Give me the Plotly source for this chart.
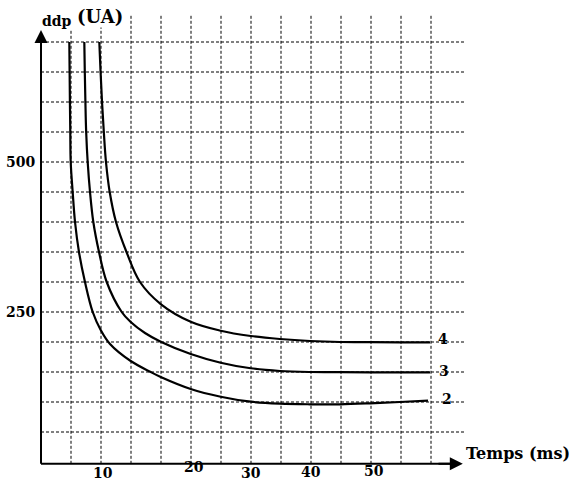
import plotly.graph_objects as go

# ---- data (time in ms, ddp in UA) ----
c2_t = [4.72, 4.77, 4.82, 4.88, 4.95, 5.28, 5.67, 6.33, 7.33, 8.62, 9.95, 11.5, 14.95, 18.28, 19.95,
        24.95, 29.95, 34.95, 39.83, 44.83, 49.83, 54.83, 59.83, 64.5]
c2_v = [700, 650, 600, 550, 500, 450, 400, 350, 300, 250, 220, 196.7, 168.3, 150, 141.7,
        121.7, 108.8, 100.5, 97.2, 96.2, 96.2, 97.8, 100, 102.2]

c3_t = [7.22, 7.3, 7.4, 7.53, 7.78, 8.17, 8.72, 9.67, 10.95, 13.45, 14.95, 17.33, 19.95,
        24.95, 29.95, 34.95, 39.83, 44.83, 49.83, 54.83, 59.83, 64.83]
c3_v = [700, 650, 600, 550, 500, 450, 400, 350, 300, 250, 233.3, 215, 200.5,
        180, 165.5, 156.2, 151.7, 150, 149.7, 149.5, 149.5, 149.5]

c4_t = [9.72, 9.93, 10.17, 10.47, 10.83, 11.45, 12.5, 14.25, 16.5, 19.95,
        24.95, 29.95, 34.95, 39.83, 44.83, 49.83, 54.83, 59.83, 64.83]
c4_v = [700, 650, 600, 550, 500, 450, 400, 350, 300, 263.3,
        233.8, 218.8, 210, 205, 201.7, 200, 199.7, 199.5, 199.5]

curve_labels = ["2", "3", "4"]
curve_label_pos = [(67.7, 105), (67.2, 151.7), (67.0, 205)]

grid_x = [5, 10, 15, 20, 25, 30, 35, 40, 45, 50, 55, 60, 65]
grid_y = [50, 100, 150, 200, 250, 300, 350, 400, 450, 500, 550, 600, 650, 700]

ytick_vals = [500, 250]
ytick_text = ["500", "250"]

xtick_text = ["10", "20", "30", "40", "50"]
xtick_pos = [10.25, 25.5, 35.0, 45.0, 55.5]
xtick_ypos = [-17.8, -8.3, -17.8, -16.7, -14.5]

FONT = "DejaVu Serif"

fig = go.Figure()

# curves
for t, v in [(c2_t, c2_v), (c3_t, c3_v), (c4_t, c4_v)]:
    fig.add_trace(go.Scatter(x=t, y=v, mode="lines",
                             line=dict(color="black", width=2.2, shape="spline", smoothing=1.0),
                             hoverinfo="skip", showlegend=False))

shapes = []
for gx in grid_x:
    shapes.append(dict(type="line", xref="x", yref="y", x0=gx, x1=gx, y0=-3, y1=745,
                       line=dict(color="black", width=1, dash="3px,2px"), layer="below"))
for gy in grid_y:
    shapes.append(dict(type="line", xref="x", yref="y", x0=0, x1=70.8, y0=gy, y1=gy,
                       line=dict(color="black", width=1, dash="3px,2px"), layer="below"))
# axes lines
shapes.append(dict(type="line", xref="x", yref="y", x0=0, x1=68.5, y0=-3, y1=-3,
                   line=dict(color="black", width=2)))
shapes.append(dict(type="line", xref="x", yref="y", x0=0, x1=0, y0=-3, y1=705,
                   line=dict(color="black", width=2)))
fig.update_layout(shapes=shapes)

ann = []
# arrowheads
ann.append(dict(x=70.3, y=-3, ax=66, ay=-3, xref="x", yref="y", axref="x", ayref="y",
                showarrow=True, arrowhead=2, arrowsize=1.3, arrowwidth=2, arrowcolor="black", text=""))
ann.append(dict(x=0, y=720, ax=0, ay=690, xref="x", yref="y", axref="x", ayref="y",
                showarrow=True, arrowhead=2, arrowsize=1.3, arrowwidth=2, arrowcolor="black", text=""))

ann.append(dict(x=2.6, y=735, text="<b>ddp</b>", showarrow=False, xref="x", yref="y",
                font=dict(family=FONT, size=14, color="black"), bgcolor="white", borderpad=0))
ann.append(dict(x=9.9, y=742, text="<b>(UA)</b>", showarrow=False, xref="x", yref="y",
                font=dict(family=FONT, size=18, color="black"), bgcolor="white", borderpad=0))
ann.append(dict(x=79.5, y=14, text="<b>Temps (ms)</b>", showarrow=False, xref="x", yref="y",
                font=dict(family=FONT, size=16, color="black")))

for v, tx in zip(ytick_vals, ytick_text):
    ann.append(dict(x=-3.4, y=v, text="<b>%s</b>" % tx, showarrow=False, xref="x", yref="y",
                    font=dict(family=FONT, size=14, color="black")))
for tx, xp, yp in zip(xtick_text, xtick_pos, xtick_ypos):
    ann.append(dict(x=xp, y=yp, text="<b>%s</b>" % tx, showarrow=False, xref="x", yref="y",
                    font=dict(family=FONT, size=14, color="black")))
for lab, (xp, yp) in zip(curve_labels, curve_label_pos):
    ann.append(dict(x=xp, y=yp, text="<b>%s</b>" % lab, showarrow=False, xref="x", yref="y",
                    font=dict(family=FONT, size=14, color="black")))

fig.update_layout(annotations=ann)

fig.update_layout(
    width=575, height=482,
    margin=dict(l=0, r=0, t=0, b=0),
    paper_bgcolor="white", plot_bgcolor="white",
    xaxis=dict(range=[-41/6, (575-41)/6], visible=False, fixedrange=True),
    yaxis=dict(range=[-20/0.6, 462/0.6], visible=False, fixedrange=True),
)

fig.write_html("out.html")
